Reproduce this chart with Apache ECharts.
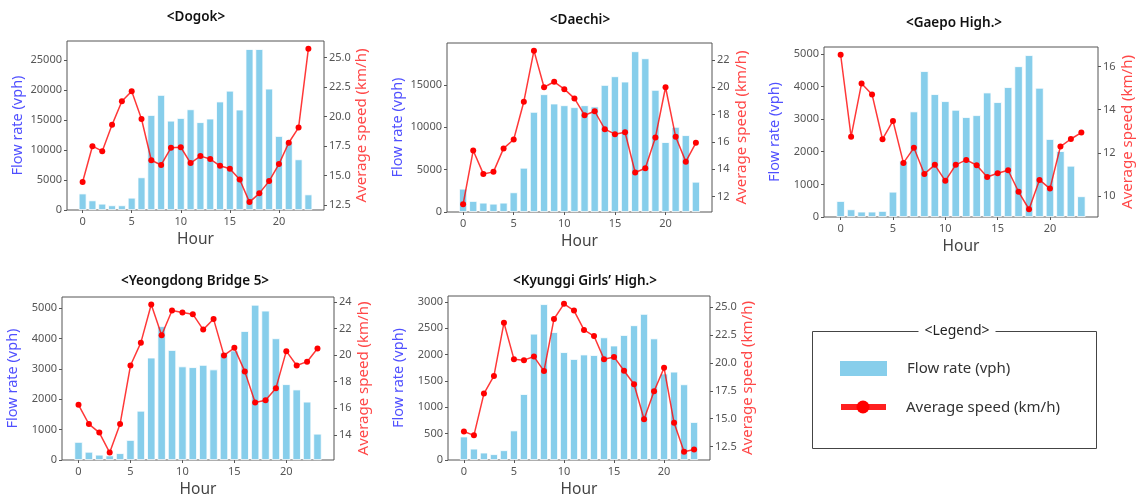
<!DOCTYPE html>
<html>
<head>
<meta charset="utf-8">
<script src="https://cdn.jsdelivr.net/npm/echarts@6/dist/echarts.min.js"></script>
<style>
html,body{margin:0;padding:0;background:#fff;}
#chart{width:1140px;height:499px;}
</style>
</head>
<body>
<div id="chart"></div>
<script>
// ---------------- DATA ----------------
const hours = [0,1,2,3,4,5,6,7,8,9,10,11,12,13,14,15,16,17,18,19,20,21,22,23];
const stationNames = ['<Dogok>', '<Daechi>', '<Gaepo High.>', '<Yeongdong Bridge 5>', '<Kyunggi Girls\u2019 High.>'];

const dogokFlow = [2750,1600,1050,780,780,2050,5450,15850,19200,14900,15350,16800,14650,15250,18100,19900,16750,26850,26850,20250,12350,11400,8450,2600];
const dogokSpeed = [14.45,17.49,17.07,19.3,21.3,22.15,19.8,16.3,15.9,17.35,17.4,16.06,16.65,16.4,15.83,15.58,14.67,12.75,13.49,14.53,15.97,17.78,19.07,25.76];

const daechiFlow = [2750,1300,1100,980,1100,2320,5220,11820,13900,12800,12600,12370,12600,12450,15000,16020,15390,18970,18140,14410,8250,10050,9070,3570];
const daechiSpeed = [11.42,15.37,13.65,13.8,15.52,16.17,18.94,22.68,20.0,20.4,19.86,19.18,17.95,18.24,16.93,16.56,16.7,13.75,14.06,16.32,20.0,16.37,14.55,15.93];

const gaepoFlow = [490,235,165,165,185,775,1725,3235,4470,3765,3550,3285,3060,3120,3815,3520,3980,4620,4960,3960,2390,2020,1570,635];
const gaepoSpeed = [16.55,12.75,15.22,14.71,12.63,13.48,11.53,12.23,11.02,11.44,10.7,11.44,11.67,11.42,10.88,11.05,11.19,10.19,9.38,10.74,10.34,12.29,12.64,12.94];

const yeongdongFlow = [595,270,175,150,225,660,1620,3370,4405,3620,3080,3055,3130,2980,3540,3605,4245,5110,4915,4005,2495,2320,1920,865];
const yeongdongSpeed = [16.26,14.81,14.17,12.67,14.81,19.21,20.93,23.8,21.49,23.34,23.19,23.07,21.91,22.7,19.97,20.54,18.77,16.43,16.6,17.51,20.29,19.21,19.5,20.49];

const kyunggiFlow = [445,215,140,110,185,560,1250,2395,2955,2425,2045,1915,2000,1990,2325,2170,2370,2555,2770,2305,1640,1675,1435,720];
const kyunggiSpeed = [13.85,13.51,17.25,18.84,23.6,20.34,20.25,20.57,19.27,23.94,25.3,24.69,22.96,22.41,20.34,20.54,19.3,18.09,14.95,17.46,19.56,14.63,12.04,12.24];

// tick labels
const hourTicks = [0,5,10,15,20];
const dogokFlowTicks = [0,5000,10000,15000,20000,25000];
const dogokSpeedTicks = [12.5,15,17.5,20,22.5,25];
const daechiFlowTicks = [0,5000,10000,15000];
const daechiSpeedTicks = [12,14,16,18,20,22];
const gaepoFlowTicks = [0,1000,2000,3000,4000,5000];
const gaepoSpeedTicks = [10,12,14,16];
const yeongdongFlowTicks = [0,1000,2000,3000,4000,5000];
const yeongdongSpeedTicks = [14,16,18,20,22,24];
const kyunggiFlowTicks = [0,500,1000,1500,2000,2500,3000];
const kyunggiSpeedTicks = [12.5,15,17.5,20,22.5,25];

const axisNames = {x: 'Hour', flow: 'Flow rate (vph)', speed: 'Average speed (km/h)'};
const legendLabels = ['Flow rate (vph)', 'Average speed (km/h)'];
const legendTitle = '<Legend>';

// ---------------- LAYOUT ----------------
const FONT = "'Noto Sans', 'DejaVu Sans', sans-serif";
const BAR = '#87ceeb';
const RED = '#ff0000';
const panels = [
  {flow: dogokFlow, speed: dogokSpeed, fTicks: dogokFlowTicks, sTicks: dogokSpeedTicks, fMax: 28200, sMin: 12.08, sMax: 26.41, dec: 1,
   grid: {left: 67, top: 41, width: 257, height: 169}, title: [196, 17]},
  {flow: daechiFlow, speed: daechiSpeed, fTicks: daechiFlowTicks, sTicks: daechiSpeedTicks, fMax: 19950, sMin: 10.86, sMax: 23.24, dec: 0,
   grid: {left: 447, top: 43, width: 265, height: 169}, title: [580, 20]},
  {flow: gaepoFlow, speed: gaepoSpeed, fTicks: gaepoFlowTicks, sTicks: gaepoSpeedTicks, fMax: 5210, sMin: 9.02, sMax: 16.91, dec: 0,
   grid: {left: 824, top: 47, width: 274, height: 170}, title: [954, 23]},
  {flow: yeongdongFlow, speed: yeongdongSpeed, fTicks: yeongdongFlowTicks, sTicks: yeongdongSpeedTicks, fMax: 5365, sMin: 12.11, sMax: 24.36, dec: 0,
   grid: {left: 62, top: 297, width: 272, height: 166}, title: [195, 281]},
  {flow: kyunggiFlow, speed: kyunggiSpeed, fTicks: kyunggiFlowTicks, sTicks: kyunggiSpeedTicks, fMax: 3110, sMin: 11.3, sMax: 26.0, dec: 1,
   grid: {left: 448, top: 296, width: 262, height: 171}, title: [585, 281]}
];
const X_MIN = -1.59, X_MAX = 24.59;

const grids = [], xAxes = [], yAxes = [], series = [], graphics = [];
const labelStyle = {color: '#555', fontSize: 11, fontFamily: FONT};
const tickStyle = {show: true, length: 3, lineStyle: {color: '#555'}};
const noLine = {show: false, onZero: false};

panels.forEach((p, i) => {
  grids.push(Object.assign({show: true, borderColor: '#555', borderWidth: 1, containLabel: false}, p.grid));
  xAxes.push({
    type: 'value', gridIndex: i, min: X_MIN, max: X_MAX,
    axisLine: noLine, splitLine: {show: false},
    axisTick: Object.assign({customValues: hourTicks}, tickStyle),
    axisLabel: Object.assign({customValues: hourTicks, margin: 6, formatter: v => String(v)}, labelStyle),
    name: axisNames.x, nameLocation: 'middle', nameGap: 22,
    nameTextStyle: {color: '#444', fontSize: 15.5, fontFamily: FONT}
  });
  yAxes.push({
    type: 'value', gridIndex: i, position: 'left', min: 0, max: p.fMax,
    axisLine: noLine, splitLine: {show: false},
    axisTick: Object.assign({customValues: p.fTicks}, tickStyle),
    axisLabel: Object.assign({customValues: p.fTicks, margin: 5, formatter: v => String(v)}, labelStyle),
    name: axisNames.flow, nameLocation: 'middle', nameGap: 42, nameRotate: 90,
    nameTextStyle: {color: '#5050ff', fontSize: 14.5, fontFamily: FONT}
  });
  yAxes.push({
    type: 'value', gridIndex: i, position: 'right', min: p.sMin, max: p.sMax,
    axisLine: noLine, splitLine: {show: false},
    axisTick: Object.assign({customValues: p.sTicks}, tickStyle),
    axisLabel: Object.assign({customValues: p.sTicks, margin: 5,
      formatter: v => Number(v).toFixed(p.dec)}, labelStyle),
    name: axisNames.speed, nameLocation: 'middle', nameGap: p.dec ? 30 : 22, nameRotate: 90,
    nameTextStyle: {color: '#ff4848', fontSize: 15, fontFamily: FONT}
  });
  const bw = p.grid.width / (X_MAX - X_MIN) * 0.8;
  series.push({
    type: 'bar', xAxisIndex: i, yAxisIndex: 2 * i, barWidth: bw,
    data: hours.map((h, k) => [h, p.flow[k]]),
    itemStyle: {color: BAR, borderColor: '#fff', borderWidth: 0.8},
    silent: true, z: 2
  });
  series.push({
    type: 'line', xAxisIndex: i, yAxisIndex: 2 * i + 1,
    data: hours.map((h, k) => [h, p.speed[k]]),
    lineStyle: {color: 'rgba(255,0,0,0.78)', width: 1.5},
    itemStyle: {color: RED},
    symbol: 'circle', symbolSize: 6, showSymbol: true,
    silent: true, z: 3
  });
  graphics.push({
    type: 'text', x: p.title[0], y: p.title[1],
    style: {text: stationNames[i], align: 'center', verticalAlign: 'middle',
      font: '600 13.5px ' + FONT, fill: '#111'}
  });
});

// legend box (drawn as graphics)
graphics.push(
  {type: 'rect', shape: {x: 812.5, y: 331.5, width: 284, height: 117}, style: {fill: 'none', stroke: '#444', lineWidth: 1}},
  {type: 'text', x: 957, y: 331, style: {text: legendTitle, align: 'center', verticalAlign: 'middle',
     font: '14px ' + FONT, fill: '#222', backgroundColor: '#fff', padding: [0, 6]}, z: 10},
  {type: 'rect', shape: {x: 840, y: 361, width: 47, height: 15}, style: {fill: BAR}},
  {type: 'text', x: 907, y: 369, style: {text: legendLabels[0], align: 'left', verticalAlign: 'middle',
     font: '15px ' + FONT, fill: '#333'}},
  {type: 'line', shape: {x1: 841, y1: 407, x2: 886, y2: 407}, style: {stroke: '#ff2020', lineWidth: 6}},
  {type: 'circle', shape: {cx: 863, cy: 407, r: 6.5}, style: {fill: RED}},
  {type: 'text', x: 906, y: 408, style: {text: legendLabels[1], align: 'left', verticalAlign: 'middle',
     font: '15px ' + FONT, fill: '#333'}}
);

const chart = echarts.init(document.getElementById('chart'), null, {renderer: 'canvas'});
chart.setOption({
  animation: false,
  backgroundColor: '#fff',
  textStyle: {fontFamily: FONT},
  grid: grids,
  xAxis: xAxes,
  yAxis: yAxes,
  series: series,
  graphic: graphics
});
</script>
</body>
</html>
